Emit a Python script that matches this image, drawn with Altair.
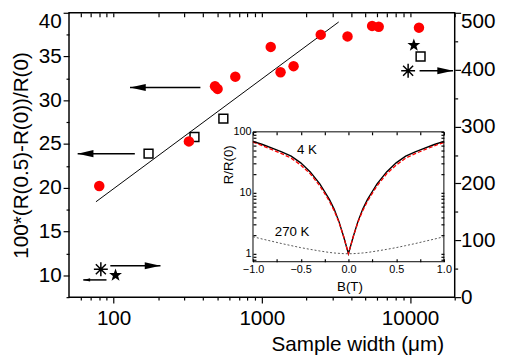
import altair as alt
import pandas as pd

FONT = "Liberation Sans"

# ---------------- main panel data ----------------
circle_width = [80, 322, 483, 503, 662, 1148, 1337, 1637, 2496, 3784, 5543, 6142, 11480]
circle_val = [20.2, 25.3, 31.6, 31.3, 32.7, 36.1, 33.2, 33.9, 37.5, 37.3, 38.5, 38.4, 38.3]

square_width = [172, 351, 550, 11770]
square_val = [23.9, 25.8, 27.9, 35.0]

star_width = [103, 10600]
star_val = [38.6, 443]

aster_width = [82, 9700]
aster_val = [49, 398]

fit_width = [76, 3300]
fit_val = [18.4, 38.95]

arrow_val = [31.46, 23.9, 11.09, 9.47, 33.37]
arrow_tail = [385, 139, 95, 89.5, 11590]
arrow_tip = [129, 57.2, 207, 62.4, 19500]
arrow_dir = ["left", "left", "right", "left", "right"]
arrow_kind = ["big", "big", "big", "small", "big"]

x_major = [100, 1000, 10000]
x_domain = [50, 20000]
left_domain = [7.5, 40]
right_domain = [0, 500]

# ---------------- inset data ----------------
field_B = [-1.0, -0.9, -0.8, -0.7, -0.6, -0.5, -0.4, -0.3, -0.25, -0.2, -0.15, -0.1, -0.05, 0.0,
           0.05, 0.1, 0.15, 0.2, 0.25, 0.3, 0.4, 0.5, 0.6, 0.7, 0.8, 0.9, 1.0]
r_4k_black = [70, 62, 54, 47, 40, 31, 22, 14, 10.5, 7.8, 5.4, 3.4, 1.9, 1.0,
              1.9, 3.4, 5.4, 7.8, 10.5, 14, 22, 31, 40, 47, 54, 62, 70]
r_4k_red = [68, 59, 51, 44, 37, 28.5, 20.5, 13, 9.8, 7.3, 5.1, 3.3, 1.9, 1.0,
            1.9, 3.3, 5.1, 7.3, 9.8, 13, 20.5, 28.5, 37, 44, 51, 59, 67]
r_270k = [1.9, 1.74, 1.6, 1.47, 1.36, 1.26, 1.18, 1.11, 1.08, 1.05, 1.03, 1.015, 1.004, 1.0,
          1.004, 1.015, 1.03, 1.05, 1.08, 1.11, 1.18, 1.26, 1.36, 1.47, 1.6, 1.74, 1.9]
inset_B_domain = [-1.0, 1.0]
inset_R_domain = [0.74, 100]
inset_labels = ["4 K", "270 K"]
inset_label_B = [-0.436, -0.59]
inset_label_R = [50.7, 2.26]

# ---------------- frames ----------------
circles = pd.DataFrame({"w": circle_width, "v": circle_val})
squares = pd.DataFrame({"w": square_width, "v": square_val})
stars = pd.DataFrame({"w": star_width, "v": star_val})
asters = pd.DataFrame({"w": aster_width, "v": aster_val})
fit = pd.DataFrame({"w": fit_width, "v": fit_val})
arrows = pd.DataFrame({"v": arrow_val, "tail": arrow_tail, "tip": arrow_tip,
                       "dir": arrow_dir, "kind": arrow_kind})
curves = pd.DataFrame({"B": field_B, "black": r_4k_black, "red": r_4k_red, "gray": r_270k})
frame = pd.DataFrame({"x1": [inset_B_domain[0]], "x2": [inset_B_domain[1]],
                      "y1": [inset_R_domain[0]], "y2": [inset_R_domain[1]]})
labels = pd.DataFrame({"B": inset_label_B, "R": inset_label_R, "t": inset_labels})

# ---------------- shapes ----------------
STAR = ("M0,-1L0.235,-0.324L0.951,-0.309L0.38,0.124L0.588,0.809L0,0.4L-0.588,0.809"
        "L-0.38,0.124L-0.951,-0.309L-0.235,-0.324Z")
ASTER = "M-1,0L1,0M0,-1L0,1M-0.72,-0.72L0.72,0.72M-0.72,0.72L0.72,-0.72"
HEAD_L = "M-1,0L1,-0.45L1,0.45Z"
HEAD_R = "M1,0L-1,-0.45L-1,0.45Z"

# ---------------- scales / axes ----------------
x_minor = [m * 10 ** e for e in (1, 2, 3, 4) for m in range(2, 10)
           if x_domain[0] < m * 10 ** e <= x_domain[1]]
x_all = sorted(x_minor + x_major)

XS = alt.Scale(type="log", domain=x_domain, nice=False)
YL = alt.Scale(domain=left_domain, nice=False, zero=False)
YR = alt.Scale(domain=right_domain, nice=False, zero=False)

common = dict(domain=False, grid=False, tickColor="black", tickWidth=1.2, zindex=1,
              labelFont=FONT, labelColor="black", labelFlush=False, labelOverlap=False,
              titleFont=FONT, titleColor="black", titleFontWeight="normal")

X_AX_MAIN = alt.Axis(orient="bottom", values=x_major, format="d", tickSize=6, labelPadding=5,
                     labelFontSize=21, title="Sample width (μm)", titleFontSize=21,
                     titleX=293, titleY=54, titleBaseline="alphabetic", titleAlign="center",
                     **common)
Y_AX_LEFT = alt.Axis(orient="left", values=[10, 15, 20, 25, 30, 35, 40], tickSize=6,
                     labelPadding=2, labelFontSize=21, title="100*(R(0.5)-R(0))/R(0)",
                     labelOffset={"condition": {"test": "datum.value == 40", "value": 9}, "value": 0},
                     titleFontSize=21, titleX=-48, titleY=144.5, titleAngle=270,
                     titleBaseline="middle", titleAlign="center", **common)
X_AX_TOP = alt.Axis(orient="top", offset=-4, values=x_all, tickSize=4, labels=False,
                    title="", **common)
Y_AX_RIGHT = alt.Axis(orient="right", values=[0, 100, 200, 300, 400, 500], tickSize=6,
                      labelOffset={"condition": {"test": "datum.value == 500", "value": 9}, "value": 0},
                      labelPadding=0, labelFontSize=21, title="", **common)
X_AX_MINOR = alt.Axis(orient="bottom", values=x_minor, tickSize=3, labels=False, title="",
                      **common)
Y_AX_LMINOR = alt.Axis(orient="left", values=[7.5, 12.5, 17.5, 22.5, 27.5, 32.5, 37.5],
                       tickSize=3, labels=False, title="", **common)
Y_AX_RMINOR = alt.Axis(orient="right", values=[50, 150, 250, 350, 450], tickSize=3,
                       labels=False, title="", **common)

XI = alt.Scale(domain=inset_B_domain, range=[187, 381], nice=False, zero=False)
YI = alt.Scale(type="log", domain=inset_R_domain, range=[253, 121], nice=False)
xi_vals = [-1.0, -0.75, -0.5, -0.25, 0.0, 0.25, 0.5, 0.75, 1.0]
yi_vals = [0.8, 0.9] + [m * 10 ** e for e in (0, 1) for m in range(1, 10)] + [100]

XI_AX_B = alt.Axis(orient="bottom", offset=-39, values=xi_vals, format=".1f",
                   labelExpr="datum.value % 0.5 == 0 ? datum.label : ''",
                   tickSize=3, labelPadding=2, labelFontSize=11, title="B(T)",
                   titleFontSize=13.5, titleX=285, titleY=28, titleBaseline="middle",
                   titleAlign="center", **common)
YI_AX_L = alt.Axis(orient="left", offset=-190, values=yi_vals, format="d",
                   labelExpr="datum.value == 1 || datum.value == 10 || datum.value == 100 ? datum.label : ''",
                   tickSize=3, labelPadding=2, labelFontSize=11, title="R/R(0)",
                   titleFontSize=13.5, titleX=-28, titleY=154, titleAngle=270,
                   titleBaseline="middle", titleAlign="center", **common)
XI_AX_T = alt.Axis(orient="top", offset=-124, values=xi_vals, tickSize=3, labels=False,
                   title="", **common)
YI_AX_R = alt.Axis(orient="right", offset=-14, values=yi_vals, tickSize=3, labels=False,
                   title="", **common)

# ---------------- main left group ----------------
def xl(field="w"):
    return alt.X(f"{field}:Q", scale=XS, axis=X_AX_MAIN)

def yl(field="v"):
    return alt.Y(f"{field}:Q", scale=YL, axis=Y_AX_LEFT)

fit_line = alt.Chart(fit).mark_line(color="black", strokeWidth=1).encode(x=xl(), y=yl())
arrow_rules = alt.Chart(arrows).mark_rule(color="black", strokeWidth=1.5).encode(
    x=xl("tail"), x2="tip:Q", y=yl())
heads_l = alt.Chart(arrows).transform_filter(
    "datum.dir == 'left' && datum.kind == 'big'").mark_point(
    shape=HEAD_L, filled=True, color="black", opacity=1, size=256, xOffset=8).encode(
    x=xl("tip"), y=yl())
heads_r = alt.Chart(arrows).transform_filter(
    "datum.dir == 'right' && datum.kind == 'big'").mark_point(
    shape=HEAD_R, filled=True, color="black", opacity=1, size=256, xOffset=-8).encode(
    x=xl("tip"), y=yl())
heads_s = alt.Chart(arrows).transform_filter("datum.kind == 'small'").mark_point(
    shape=HEAD_L, filled=True, color="black", opacity=1, size=49, xOffset=3.5).encode(
    x=xl("tip"), y=yl())
sq = alt.Chart(squares).mark_point(shape="square", filled=False, color="black",
                                   strokeWidth=1.5, size=81, opacity=1).encode(x=xl(), y=yl())
ci = alt.Chart(circles).mark_circle(color="#ff0000", size=113, opacity=1).encode(x=xl(), y=yl())

g_left = alt.layer(fit_line, arrow_rules, heads_l, heads_r, heads_s, sq, ci)

# ---------------- main right group ----------------
def xr():
    return alt.X("w:Q", scale=XS, axis=X_AX_TOP)

def yr():
    return alt.Y("v:Q", scale=YR, axis=Y_AX_RIGHT)

st = alt.Chart(stars).mark_point(shape=STAR, filled=True, color="black", opacity=1,
                                 size=190).encode(x=xr(), y=yr())
ast = alt.Chart(asters).mark_point(shape=ASTER, filled=False, color="black", opacity=1,
                                   strokeWidth=1.5, size=200).encode(x=xr(), y=yr())
g_right = alt.layer(st, ast)

# ---------------- minor tick groups ----------------
g_minor = alt.Chart(circles).mark_point(opacity=0).encode(
    x=alt.X("w:Q", scale=XS, axis=X_AX_MINOR), y=alt.Y("v:Q", scale=YL, axis=Y_AX_LMINOR))
g_rminor = alt.Chart(stars).mark_point(opacity=0).encode(
    x=alt.X("w:Q", scale=XS, axis=None), y=alt.Y("v:Q", scale=YR, axis=Y_AX_RMINOR))

# ---------------- inset ----------------
g_frame = alt.Chart(frame).mark_rect(fill="white", stroke="black", strokeWidth=1).encode(
    x=alt.X("x1:Q", scale=XI, axis=XI_AX_B), x2="x2:Q",
    y=alt.Y("y1:Q", scale=YI, axis=YI_AX_L), y2="y2:Q")

def xi():
    return alt.X("B:Q", scale=XI, axis=XI_AX_T)

def yi(field):
    return alt.Y(f"{field}:Q", scale=YI, axis=YI_AX_R)

c_gray = alt.Chart(curves).mark_line(color="#555555", strokeWidth=1, strokeDash=[2, 2]).encode(
    x=xi(), y=yi("gray"))
c_black = alt.Chart(curves).mark_line(color="black", strokeWidth=1.4).encode(x=xi(), y=yi("black"))
c_red = alt.Chart(curves).mark_line(color="#ff0000", strokeWidth=1.3, strokeDash=[4, 2]).encode(
    x=xi(), y=yi("red"))
t_lab = alt.Chart(labels).mark_text(font=FONT, fontSize=13.5, color="black", align="center",
                                    baseline="middle").encode(
    x=alt.X("B:Q", scale=XI, axis=XI_AX_T), y=alt.Y("R:Q", scale=YI, axis=YI_AX_R), text="t:N")
g_curves = alt.layer(c_gray, c_black, c_red, t_lab)

chart = alt.layer(g_left, g_right, g_minor, g_rminor, g_frame, g_curves).resolve_scale(
    x="independent", y="independent"
).properties(
    width=392, height=289,
    autosize=alt.AutoSizeParams(type="none"),
    padding={"left": 62, "top": 2, "right": 44, "bottom": 60},
).configure_view(stroke="black", strokeWidth=1.5)

chart.save("out.html", embed_options={"renderer": "svg", "actions": False})
